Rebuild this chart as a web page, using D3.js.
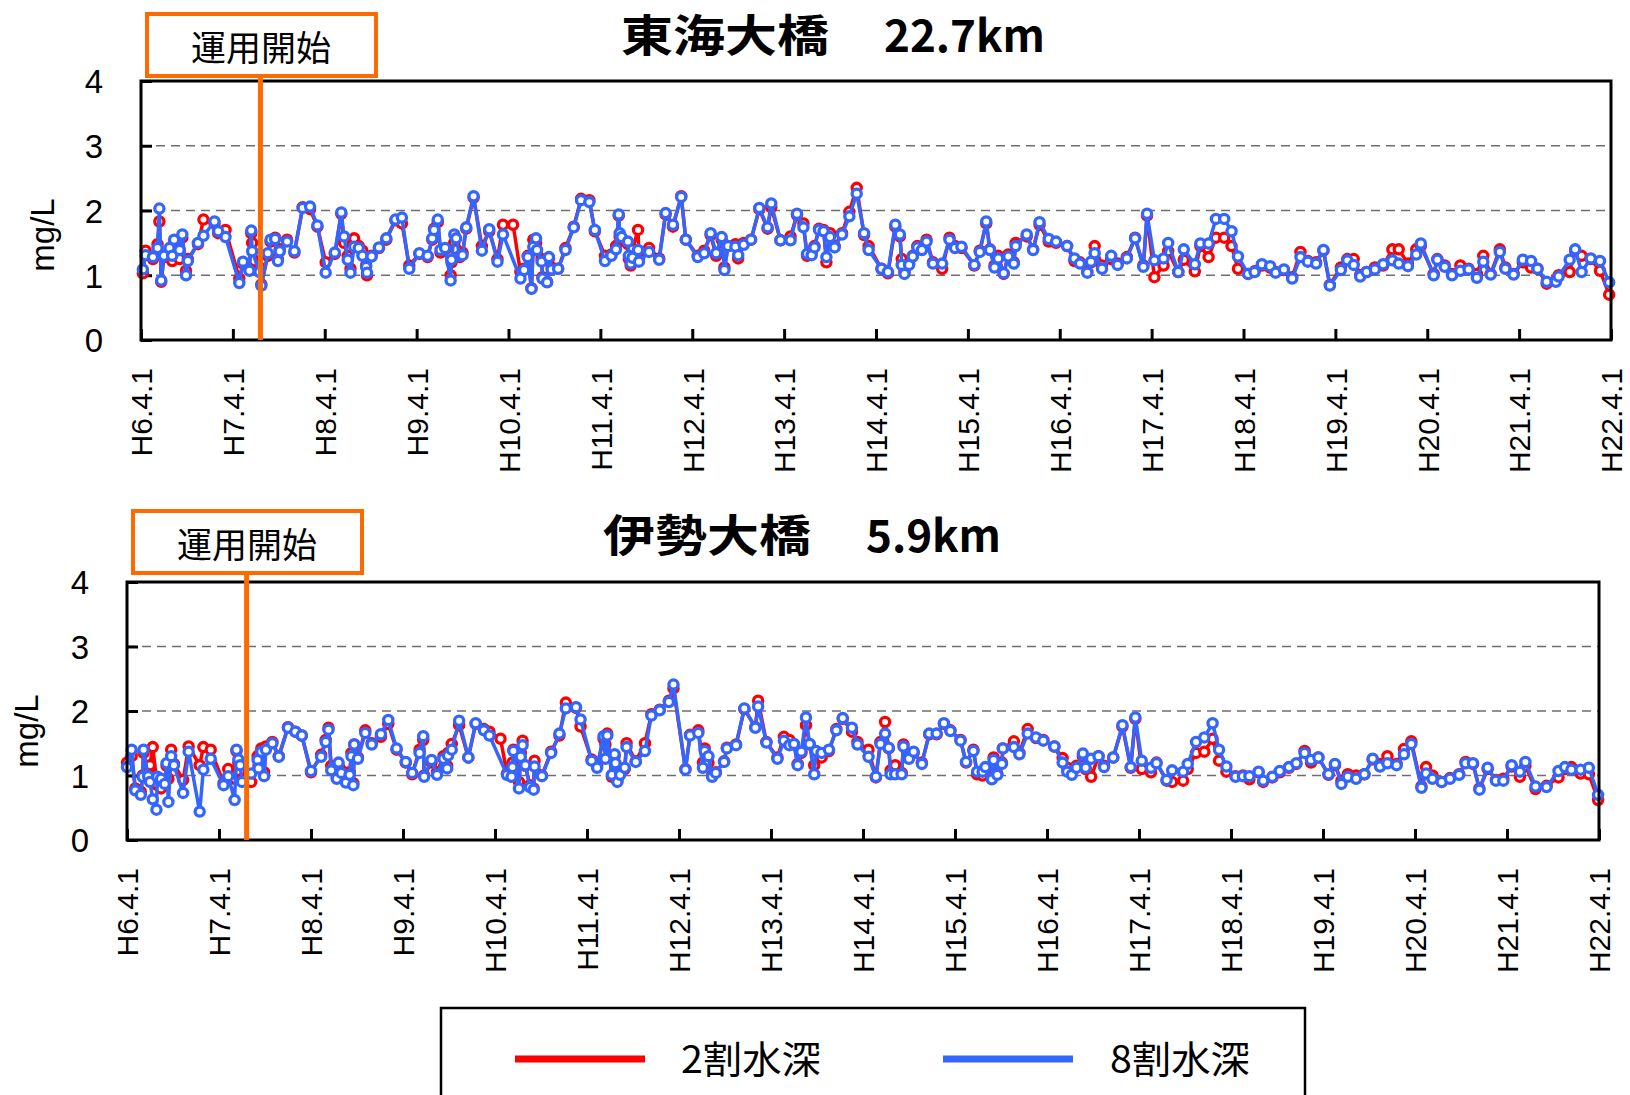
<!DOCTYPE html>
<html><head><meta charset="utf-8">
<script src="https://cdn.jsdelivr.net/npm/d3@7"></script>
<style>body{margin:0;background:#fff}svg{display:block}</style>
</head><body>
<svg id="c" width="1630" height="1095"></svg>
<script>
// ---------- data ----------
const xTickLabels = ["H6.4.1","H7.4.1","H8.4.1","H9.4.1","H10.4.1","H11.4.1","H12.4.1","H13.4.1","H14.4.1","H15.4.1","H16.4.1","H17.4.1","H18.4.1","H19.4.1","H20.4.1","H21.4.1","H22.4.1"];
const yTicks = [0,1,2,3,4];
const gridValues = [1,2,3];
const startT = 1.3;              // 運用開始 (years after H6.4.1)
const startLabel = "運用開始";
const panelNames = ["東海大橋","伊勢大橋"];
const panelKm = ["22.7km","5.9km"];
const seriesNames = ["2割水深","8割水深"];
const seriesColors = ["#ff0000","#3366ff"];

// 東海大橋 22.7km
const topT = [
0.02,0.05,0.13,0.18,0.20,0.22,0.25,0.31,0.34,0.36,
0.42,0.45,0.49,0.51,0.62,0.68,0.80,0.84,0.92,1.07,
1.11,1.18,1.20,1.21,1.29,1.31,1.38,1.41,1.46,1.49,
1.51,1.59,1.67,1.76,1.84,1.92,2.01,2.11,2.18,2.21,
2.25,2.28,2.32,2.37,2.41,2.45,2.46,2.51,2.59,2.67,
2.77,2.84,2.92,3.03,3.12,3.17,3.19,3.23,3.26,3.31,
3.37,3.38,3.41,3.43,3.47,3.50,3.54,3.62,3.71,3.79,
3.88,3.94,4.05,4.13,4.17,4.21,4.25,4.27,4.30,4.31,
4.36,4.37,4.42,4.44,4.47,4.54,4.62,4.71,4.79,4.88,
4.94,5.05,5.12,5.17,5.20,5.21,5.23,5.30,5.31,5.33,
5.35,5.41,5.42,5.53,5.64,5.71,5.79,5.88,5.93,6.06,
6.13,6.20,6.26,6.32,6.35,6.39,6.47,6.50,6.56,6.64,
6.73,6.82,6.86,6.96,7.07,7.14,7.21,7.25,7.30,7.33,
7.38,7.43,7.46,7.50,7.55,7.63,7.71,7.79,7.87,7.92,
8.06,8.13,8.21,8.26,8.28,8.31,8.36,8.40,8.45,8.50,
8.55,8.62,8.72,8.80,8.86,8.93,9.07,9.13,9.20,9.24,
9.29,9.33,9.39,9.44,9.50,9.52,9.64,9.71,9.78,9.88,
9.96,10.08,10.16,10.22,10.30,10.34,10.38,10.46,10.56,10.63,
10.73,10.82,10.91,10.95,11.03,11.13,11.18,11.29,11.35,11.47,
11.53,11.62,11.70,11.79,11.87,11.94,12.05,12.12,12.20,12.29,
12.35,12.44,12.53,12.62,12.70,12.79,12.87,12.94,13.06,13.13,
13.20,13.27,13.34,13.43,13.52,13.62,13.69,13.79,13.88,13.93,
14.07,14.11,14.19,14.27,14.36,14.45,14.54,14.61,14.69,14.79,
14.85,14.94,15.04,15.13,15.20,15.30,15.40,15.43,15.55,15.61,
15.68,15.78,15.88,15.98];
const topBlue = [
1.09,1.31,1.28,1.42,2.03,0.92,1.30,1.42,1.30,1.55,
1.39,1.63,1.00,1.22,1.50,1.61,1.83,1.68,1.59,0.88,
1.21,1.07,1.69,1.37,1.05,0.84,1.34,1.55,1.56,1.22,
1.37,1.52,1.37,2.04,2.06,1.77,1.04,1.35,1.97,1.60,
1.24,1.04,1.44,1.42,1.30,1.13,1.04,1.29,1.43,1.57,
1.86,1.89,1.10,1.34,1.30,1.57,1.70,1.86,1.39,1.42,
0.92,1.24,1.63,1.57,1.30,1.31,1.74,2.22,1.38,1.71,
1.21,1.63,null,0.95,1.08,1.28,0.79,1.44,1.57,1.39,
1.21,0.95,0.89,1.28,1.09,1.10,1.39,1.74,2.16,2.13,
1.70,1.22,1.30,1.40,1.94,1.65,1.59,1.52,1.30,1.18,
1.27,1.39,1.21,1.36,1.24,1.96,1.78,2.21,1.55,1.28,
1.34,1.65,1.34,1.59,1.08,1.45,1.44,1.31,1.47,1.55,
2.04,1.74,2.11,1.54,1.54,1.95,1.74,1.33,1.31,1.43,
1.70,1.68,1.28,1.59,1.43,1.63,1.91,2.26,1.65,1.39,
1.10,1.05,1.78,1.63,1.16,1.02,1.16,1.29,1.43,1.39,
1.52,1.18,1.18,1.55,1.42,1.44,1.16,1.36,1.83,1.39,
1.12,1.26,1.03,1.29,1.18,1.45,1.63,1.39,1.82,1.56,
1.52,1.45,1.26,1.18,1.04,1.21,1.34,1.10,1.30,1.16,
1.26,1.57,1.13,1.95,1.23,1.26,1.50,1.05,1.40,1.17,
1.49,1.49,1.87,1.87,1.68,1.29,1.02,1.05,1.17,1.14,
1.04,1.09,0.95,1.28,1.21,1.18,1.39,0.84,1.08,1.23,
1.16,0.98,1.05,1.09,1.17,1.23,1.18,1.14,1.32,1.49,
1.00,1.24,1.13,1.00,1.07,1.09,0.96,1.21,1.01,1.36,
1.10,1.01,1.24,1.22,1.10,0.90,0.90,0.98,1.24,1.40,
1.05,1.26,1.22,0.89];
const topRed = [
1.03,1.38,1.25,1.48,1.83,0.90,1.28,1.38,1.22,1.50,
1.25,1.58,1.07,1.25,1.48,1.86,1.80,1.65,1.70,0.95,
1.18,1.10,1.65,1.50,1.12,0.86,1.30,1.52,1.58,1.25,
1.40,1.55,1.35,2.05,2.02,1.75,1.20,1.33,1.95,1.50,
1.30,1.10,1.57,1.45,1.38,1.15,1.00,1.30,1.42,1.55,
1.85,1.80,1.15,1.33,1.28,1.55,1.72,1.82,1.35,1.40,
1.00,1.20,1.50,1.40,1.28,1.35,1.72,2.20,1.45,1.68,
1.25,1.78,1.78,1.05,1.10,1.30,0.80,1.55,1.50,1.38,
1.25,0.97,0.90,1.26,1.12,1.10,1.42,1.75,2.18,2.16,
1.68,1.30,1.32,1.45,1.92,1.60,1.55,1.48,1.25,1.15,
1.40,1.70,1.25,1.42,1.26,1.94,1.75,2.22,1.55,1.30,
1.38,1.62,1.30,1.55,1.12,1.45,1.48,1.26,1.50,1.55,
2.02,1.72,2.05,1.54,1.60,1.93,1.80,1.30,1.35,1.45,
1.72,1.70,1.20,1.65,1.45,1.65,1.98,2.35,1.62,1.45,
1.10,1.03,1.75,1.60,1.25,1.05,1.18,1.30,1.45,1.40,
1.55,1.20,1.10,1.58,1.45,1.42,1.15,1.38,1.80,1.40,
1.15,1.30,1.02,1.32,1.20,1.50,1.60,1.40,1.78,1.52,
1.50,1.45,1.22,1.20,1.05,1.20,1.45,1.15,1.25,1.18,
1.28,1.58,1.15,1.92,0.97,1.15,1.37,1.05,1.24,1.06,
1.45,1.28,1.58,1.58,1.45,1.10,1.02,1.06,1.15,1.12,
1.05,1.08,0.97,1.36,1.22,1.20,1.38,0.85,1.12,1.25,
1.25,1.00,1.05,1.12,1.15,1.40,1.40,1.18,1.40,1.45,
1.02,1.25,1.15,1.02,1.15,1.10,1.02,1.30,1.02,1.40,
1.12,1.02,1.20,1.12,1.10,0.87,0.92,1.00,1.05,1.38,
1.30,1.25,1.07,0.70];

// 伊勢大橋 5.9km
const botT = [
0.00,0.05,0.09,0.15,0.17,0.18,0.23,0.25,0.28,0.32,
0.33,0.37,0.41,0.43,0.45,0.48,0.51,0.61,0.67,0.79,
0.83,0.91,1.05,1.10,1.17,1.19,1.21,1.23,1.25,1.35,
1.42,1.43,1.46,1.49,1.51,1.58,1.65,1.75,1.83,1.90,
2.00,2.11,2.16,2.19,2.22,2.28,2.30,2.33,2.38,2.42,
2.44,2.46,2.47,2.51,2.59,2.66,2.76,2.84,2.93,3.03,
3.10,3.18,3.22,3.23,3.31,3.37,3.44,3.48,3.49,3.53,
3.61,3.71,3.79,3.88,3.94,4.06,4.13,4.18,4.19,4.20,
4.26,4.28,4.30,4.33,4.38,4.42,4.43,4.51,4.61,4.70,
4.77,4.88,4.93,5.05,5.11,5.18,5.20,5.22,5.27,5.30,
5.31,5.33,5.36,5.41,5.43,5.53,5.63,5.70,5.79,5.89,
5.94,6.07,6.12,6.21,6.26,6.28,6.32,6.36,6.40,6.49,
6.52,6.62,6.71,6.83,6.86,6.95,7.07,7.14,7.20,7.25,
7.29,7.33,7.38,7.42,7.47,7.49,7.55,7.63,7.71,7.78,
7.88,7.94,8.06,8.14,8.19,8.24,8.28,8.30,8.35,8.42,
8.44,8.50,8.55,8.64,8.72,8.80,8.88,8.95,9.06,9.12,
9.20,9.24,9.30,9.33,9.40,9.42,9.46,9.51,9.52,9.64,
9.70,9.79,9.88,9.96,10.08,10.17,10.22,10.27,10.32,10.39,
10.42,10.48,10.56,10.62,10.72,10.82,10.91,10.96,11.03,11.13,
11.19,11.30,11.36,11.48,11.53,11.62,11.71,11.80,11.87,11.95,
12.05,12.13,12.20,12.30,12.35,12.45,12.53,12.63,12.71,12.80,
12.87,12.95,13.06,13.13,13.20,13.27,13.36,13.45,13.54,13.62,
13.70,13.80,13.88,13.96,14.07,14.12,14.19,14.29,14.38,14.48,
14.55,14.63,14.70,14.79,14.88,14.96,15.05,15.14,15.20,15.31,
15.43,15.56,15.63,15.70,15.80,15.89,15.99];
const botBlue = [
1.13,1.40,0.77,0.70,0.98,1.40,0.99,0.90,0.63,0.47,
0.98,0.95,0.87,1.19,0.59,1.30,1.16,0.73,1.37,0.44,
1.09,1.26,0.85,0.99,0.62,1.40,1.25,1.16,0.90,1.03,
1.24,1.11,1.37,0.99,1.40,1.50,1.29,1.74,1.68,1.62,
1.07,1.29,1.52,1.71,1.08,0.95,1.20,1.04,0.89,1.01,
1.30,0.85,1.48,1.26,1.66,1.48,1.64,1.86,1.42,1.21,
1.04,1.35,1.61,0.98,1.24,1.01,1.26,1.11,1.31,1.40,
1.85,1.28,1.81,1.70,1.62,null,1.01,0.98,1.13,1.38,
0.80,1.29,1.47,1.16,0.82,0.78,1.14,0.99,1.35,1.65,
2.04,2.06,1.87,1.23,1.12,1.61,1.26,1.62,1.01,1.33,
1.19,0.90,1.01,1.12,1.44,1.21,1.38,1.93,2.01,2.14,
2.41,1.09,1.62,1.66,1.12,1.38,1.30,0.98,1.04,1.21,
1.42,1.47,2.04,1.74,2.07,1.51,1.26,1.54,1.47,1.49,
1.16,1.37,1.90,1.49,1.02,1.38,1.35,1.40,1.70,1.89,
1.74,1.48,1.29,0.98,1.49,1.65,1.43,1.02,1.02,1.02,
1.45,1.26,1.37,1.18,1.65,1.65,1.81,1.69,1.54,1.21,
1.38,1.06,1.06,1.13,0.94,1.24,1.01,1.18,1.42,1.44,
1.33,1.65,1.59,1.54,1.45,1.20,1.06,1.01,1.12,1.34,
1.12,1.26,1.30,1.13,1.28,1.78,1.13,1.90,1.23,1.12,
1.19,0.93,1.08,1.06,1.18,1.52,1.59,1.81,1.40,1.14,
0.98,0.99,0.99,1.06,0.92,0.98,1.07,1.13,1.19,1.35,
1.24,1.28,1.02,1.18,0.87,0.98,0.95,1.02,1.26,1.14,
1.19,1.16,1.33,1.49,0.81,1.03,0.95,0.90,0.95,1.01,
1.19,1.19,0.78,1.12,0.92,0.92,1.16,1.06,1.21,0.83,
0.82,1.07,1.13,1.09,1.09,1.12,0.70];
const botRed = [
1.20,1.30,0.80,0.75,1.00,1.35,1.05,1.16,1.44,0.95,
0.85,0.80,0.90,1.15,0.95,1.40,1.18,0.93,1.45,1.16,
1.44,1.40,0.88,1.10,0.95,1.38,1.20,1.05,0.95,0.90,
1.30,1.15,1.42,1.05,1.45,1.52,1.30,1.75,1.68,1.62,
1.05,1.32,1.55,1.74,1.15,0.97,1.15,1.08,0.92,1.05,
1.35,0.88,1.48,1.28,1.70,1.50,1.60,1.80,1.40,1.20,
1.02,1.40,1.55,1.00,1.20,1.05,1.30,1.15,1.35,1.49,
1.78,1.28,1.80,1.72,1.68,1.57,1.03,1.00,1.20,1.40,
0.90,1.35,1.54,1.15,0.85,0.80,1.23,1.00,1.37,1.62,
2.13,2.05,1.76,1.25,1.15,1.57,1.48,1.65,0.98,1.30,
1.15,0.92,1.05,1.10,1.50,1.22,1.50,1.95,2.02,2.16,
2.35,1.10,1.63,1.70,1.20,1.42,1.20,1.00,1.05,1.22,
1.43,1.48,2.03,1.75,2.16,1.52,1.28,1.60,1.55,1.48,
1.18,1.35,1.78,1.48,1.16,1.30,1.28,1.38,1.72,1.88,
1.68,1.52,1.40,0.97,1.52,1.83,1.42,1.08,1.16,1.04,
1.48,1.28,1.35,1.20,1.64,1.64,1.80,1.70,1.55,1.20,
1.40,1.02,1.00,1.10,0.96,1.28,1.03,1.20,1.42,1.53,
1.35,1.72,1.58,1.55,1.45,1.27,1.12,1.05,1.15,1.30,
1.10,0.98,1.30,1.15,1.28,1.76,1.12,1.88,1.10,1.05,
1.20,0.92,0.90,0.92,1.10,1.35,1.37,1.57,1.23,1.06,
0.99,1.00,0.94,1.05,0.90,0.97,1.05,1.12,1.18,1.38,
1.20,1.28,1.01,1.16,0.92,1.02,1.00,1.02,1.25,1.18,
1.30,1.18,1.41,1.53,0.83,1.13,1.00,0.90,0.96,1.02,
1.21,1.18,0.80,1.10,0.93,0.95,1.14,0.98,1.15,0.79,
0.84,0.97,1.10,1.13,1.03,1.02,0.62];

// ---------- drawing ----------
const svg = d3.select("#c");
const CJK = "'Noto Sans CJK JP','Noto Sans CJK SC',sans-serif";
const LAT = "'Liberation Sans',Arial,sans-serif";
const ORANGE = "#ff6a00";

const panels = [
  {L:141,R:1611,T:81,B:340, name:panelNames[0], km:panelKm[0], nx:621, nw:208, kx:884, kw:161, tb:52,
   box:[147,14,229,62], boxText:[261,61], ylab:[42,235], t:topT, red:topRed, blue:topBlue},
  {L:127,R:1599,T:582,B:840, name:panelNames[1], km:panelKm[1], nx:603, nw:208, kx:866, kw:135, tb:552,
   box:[133,511,229,62], boxText:[247,558], ylab:[26,731], t:botT, red:botRed, blue:botBlue}
];

panels.forEach(p => {
  const x = d3.scaleLinear().domain([0, xTickLabels.length-1]).range([p.L, p.R]);
  const y = d3.scaleLinear().domain([0, 4]).range([p.B, p.T]);
  const g = svg.append("g");

  // gridlines
  g.selectAll(".grid").data(gridValues).join("line")
    .attr("x1", p.L).attr("x2", p.R).attr("y1", d=>y(d)).attr("y2", d=>y(d))
    .attr("stroke", "#6e6e6e").attr("stroke-width", 1.6).attr("stroke-dasharray", "9,6");

  // x axis
  const xa = g.append("g").attr("transform", `translate(0,${p.B})`)
    .call(d3.axisBottom(x).tickValues(d3.range(xTickLabels.length)).tickSize(-11)
      .tickFormat((d,i)=>xTickLabels[i]));
  xa.select(".domain").remove();
  xa.selectAll(".tick line").attr("stroke","#000").attr("stroke-width",3);
  xa.selectAll(".tick text").attr("transform","rotate(-90)")
    .attr("x",-28).attr("y",0).attr("dy","0.36em").attr("text-anchor","end")
    .attr("font-family",LAT).attr("font-size",30).attr("fill","#000");

  // y axis
  const ya = g.append("g").attr("transform", `translate(${p.L},0)`)
    .call(d3.axisLeft(y).tickValues(yTicks).tickSize(-11).tickFormat(d3.format("d")));
  ya.select(".domain").remove();
  ya.selectAll(".tick line").attr("stroke","#000").attr("stroke-width",3);
  ya.selectAll(".tick text").attr("x",-38).attr("dy","0.36em")
    .attr("font-family",LAT).attr("font-size",33).attr("fill","#000");

  // y label
  g.append("text").attr("transform",`translate(${p.ylab[0]},${p.ylab[1]}) rotate(-90)`)
    .attr("text-anchor","middle").attr("dy","0.35em")
    .attr("font-family",LAT).attr("font-size",33).text("mg/L");

  // series
  const seriesList = [p.red, p.blue];
  seriesList.forEach((vals, si) => {
    const pts = p.t.map((t,i)=>[t, vals[i]]).filter(d => d[1] !== null);
    const line = d3.line().x(d=>x(d[0])).y(d=>y(d[1]));
    g.append("path").datum(pts).attr("d", line).attr("fill","none")
      .attr("stroke", seriesColors[si]).attr("stroke-width", 3.5).attr("stroke-linejoin","round");
    g.append("g").selectAll("circle").data(pts).join("circle")
      .attr("cx", d=>x(d[0])).attr("cy", d=>y(d[1])).attr("r", 4.6)
      .attr("fill","#fff").attr("stroke", seriesColors[si]).attr("stroke-width", 3.3);
  });

  // frame
  g.append("rect").attr("x",p.L).attr("y",p.T).attr("width",p.R-p.L).attr("height",p.B-p.T)
    .attr("fill","none").attr("stroke","#000").attr("stroke-width",3);

  // start line + box
  g.append("line").attr("x1",x(startT)).attr("x2",x(startT))
    .attr("y1",p.box[1]+p.box[3]).attr("y2",p.B)
    .attr("stroke",ORANGE).attr("stroke-width",5);
  g.append("rect").attr("x",p.box[0]).attr("y",p.box[1]).attr("width",p.box[2]).attr("height",p.box[3])
    .attr("fill","#fff").attr("stroke",ORANGE).attr("stroke-width",4);
  g.append("text").attr("x",p.boxText[0]).attr("y",p.boxText[1]).attr("text-anchor","middle")
    .attr("font-family",CJK).attr("font-size",35).attr("fill","#000").text(startLabel);

  // title
  g.append("text").attr("x",p.nx).attr("y",p.tb).attr("font-family",CJK).attr("font-weight","bold")
    .attr("font-size",44).attr("textLength",p.nw).attr("lengthAdjust","spacingAndGlyphs").text(p.name);
  g.append("text").attr("x",p.kx).attr("y",p.tb).attr("font-family",CJK).attr("font-weight","bold")
    .attr("font-size",44).attr("textLength",p.kw).attr("lengthAdjust","spacing").text(p.km);
});

// legend
const lg = svg.append("g");
lg.append("rect").attr("x",441).attr("y",1008).attr("width",864).attr("height",110)
  .attr("fill","#fff").attr("stroke","#000").attr("stroke-width",2.5);
const legendPos = [[515,681],[943,1110]];
seriesNames.forEach((n,i)=>{
  lg.append("line").attr("x1",legendPos[i][0]).attr("x2",legendPos[i][0]+130)
    .attr("y1",1059).attr("y2",1059).attr("stroke",seriesColors[i]).attr("stroke-width",7);
  lg.append("text").attr("x",legendPos[i][1]).attr("y",1073).attr("font-family",CJK)
    .attr("font-size",38).attr("textLength",140).attr("lengthAdjust","spacingAndGlyphs").text(n);
});
</script>
</body></html>
